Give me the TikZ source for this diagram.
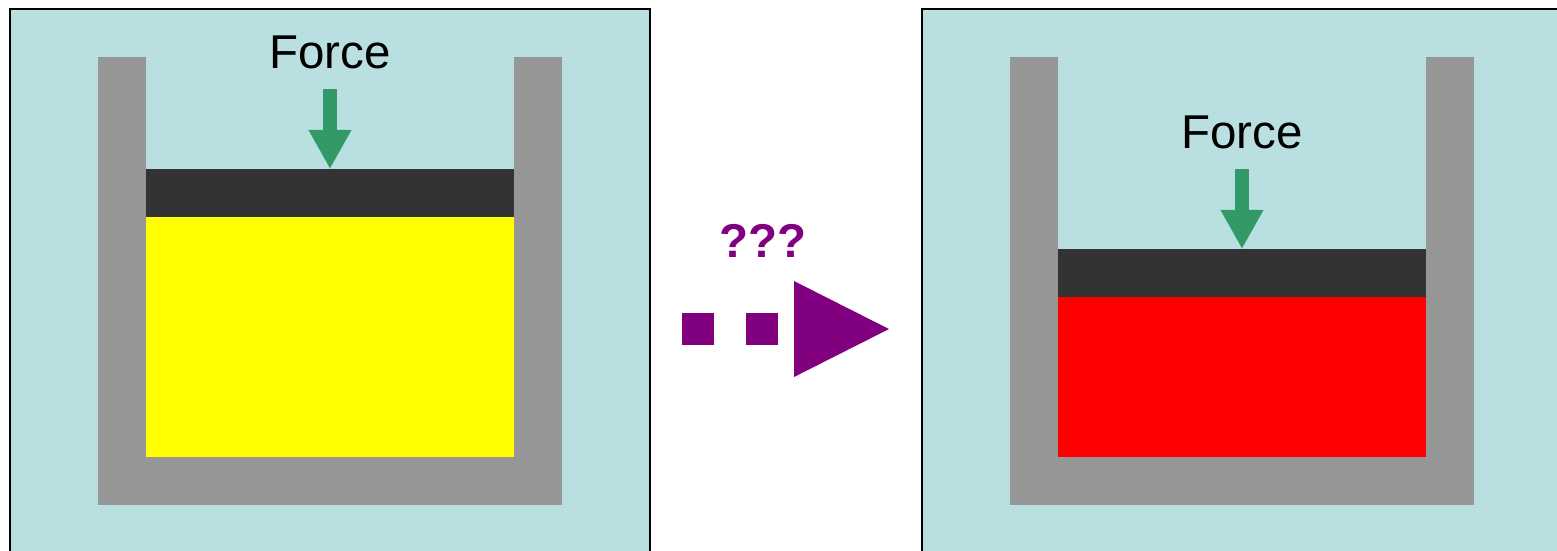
\documentclass[tikz,border=0pt]{standalone}
\usepackage{fontspec}
\setmainfont{Liberation Sans}
\usepackage{tikz}
\usetikzlibrary{arrows.meta}
\definecolor{chamber}{RGB}{185, 223, 225}
\definecolor{wall}{RGB}{150, 150, 150}
\definecolor{piston}{RGB}{51, 51, 51}
\definecolor{push}{RGB}{51, 153, 102}
\definecolor{query}{RGB}{128, 0, 128}
\definecolor{cold}{RGB}{255, 255, 0}
\definecolor{hot}{RGB}{255, 0, 0}

\begin{document}
\begin{tikzpicture}[x=0.01cm, y=-0.01cm,
  forcearrow/.style={push, line width=0.14cm, -{Triangle[width=0.4cm, length=0.39cm]}},
  forcetext/.style={font=\fontsize{13.5}{16}\selectfont, anchor=base, inner sep=0pt}]
  \useasboundingbox (0, 0) rectangle (1557, 550);
  \clip (0, 0) rectangle (1557, 550);

  % before and after
  \foreach \dx/\dy/\fluid/\n in {0/0/cold/L, 912/80/hot/R} {
    \begin{scope}[shift={(\dx, 0)}]
      \filldraw[fill=chamber, draw=black, line width=0.8pt] (10, 9) rectangle (650, 600);
      \fill[wall] (98, 57) rectangle (562, 505);
      \fill[chamber] (146, 50) rectangle (514, 457);
      \fill[piston] (146, 169+\dy) rectangle (514, 217+\dy);
      \fill[\fluid] (146, 217+\dy) rectangle (514, 457);
      \node[forcetext] (force\n) at (330, 68+\dy) {Force};
      \coordinate (push\n) at (330, 89+\dy);
      \coordinate (top\n) at (330, 169+\dy);
      \draw[forcearrow] (push\n) -- (top\n);
    \end{scope}
  }

  % dotted arrow in between
  \node[forcetext, query, font=\fontsize{13.5}{16}\selectfont\bfseries] (what) at (763, 257) {???};
  \foreach \x in {682, 746} {
    \fill[query] (\x, 313) rectangle (\x+32, 345);
  }
  \fill[query] (794, 281) -- (889, 329) -- (794, 377) -- cycle;

\end{tikzpicture}
\end{document}
